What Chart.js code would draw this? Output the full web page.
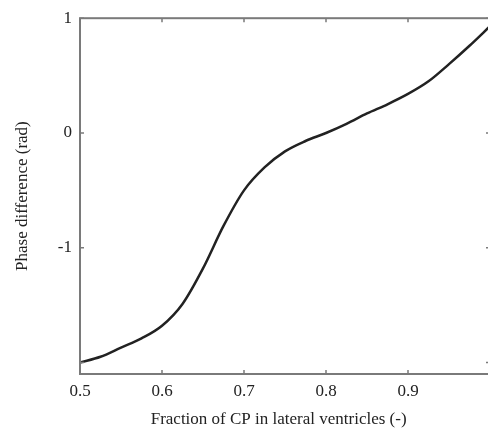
<!DOCTYPE html>
<html>
<head>
<meta charset="utf-8">
<script src="https://cdn.jsdelivr.net/npm/chart.js@4/dist/chart.umd.min.js"></script>
<style>
  html, body { margin: 0; padding: 0; background: #fff; overflow: hidden; }
  #wrap { width: 500px; height: 432px; }
</style>
</head>
<body>
<div id="wrap"><canvas id="grafico"></canvas></div>
<script>
// fraction of CP in lateral ventricles (-)
const fracoes = [0.5, 0.525, 0.55, 0.575, 0.6, 0.625, 0.65, 0.675, 0.7, 0.725, 0.75,
  0.775, 0.8, 0.825, 0.85, 0.875, 0.9, 0.925, 0.95, 0.975, 1.0];
// phase difference (rad)
const fases = [-2.0, -1.95, -1.87, -1.79, -1.68, -1.49, -1.18, -0.81, -0.50, -0.30, -0.16,
  -0.07, 0.0, 0.08, 0.17, 0.25, 0.34, 0.45, 0.60, 0.76, 0.93];
const ticksX = [0.5, 0.6, 0.7, 0.8, 0.9, 1.0];
const ticksY = [-2, -1, 0, 1];
const rotulosY = { '1': '1', '0': '0', '-1': '-1' };

const fonte = { family: 'Liberation Serif', size: 17 };
const corEixo = '#7a7a7a';

// moldura e marcas internas (estilo matlab)
const moldura = {
  id: 'moldura',
  afterDraw(chart) {
    const { ctx, chartArea: a, scales } = chart;
    ctx.save();
    ctx.strokeStyle = corEixo;
    ctx.lineWidth = 2;
    ctx.strokeRect(a.left, a.top, a.right - a.left, a.bottom - a.top);
    ctx.lineWidth = 1.5;
    ctx.beginPath();
    ticksX.forEach(v => {
      const px = scales.x.getPixelForValue(v);
      ctx.moveTo(px, a.bottom); ctx.lineTo(px, a.bottom - 4);
      ctx.moveTo(px, a.top); ctx.lineTo(px, a.top + 4);
    });
    ticksY.forEach(v => {
      const py = scales.y.getPixelForValue(v);
      ctx.moveTo(a.left, py); ctx.lineTo(a.left + 4, py);
      ctx.moveTo(a.right, py); ctx.lineTo(a.right - 4, py);
    });
    ctx.stroke();
    ctx.restore();
  }
};

const ctx = document.getElementById('grafico').getContext('2d');
new Chart(ctx, {
  type: 'line',
  data: {
    datasets: [{
      data: fracoes.map((f, i) => ({ x: f, y: fases[i] })),
      borderColor: '#222',
      borderWidth: 2.5,
      pointRadius: 0,
      cubicInterpolationMode: 'monotone',
      fill: false
    }]
  },
  options: {
    responsive: true,
    maintainAspectRatio: false,
    animation: false,
    layout: { padding: { top: 15, right: 10, left: 0, bottom: 0 } },
    plugins: { legend: { display: false }, tooltip: { enabled: false } },
    scales: {
      x: {
        type: 'linear',
        min: 0.5,
        max: 1.0,
        afterFit: s => { s.height = 58; },
        afterBuildTicks: s => { s.ticks = ticksX.map(v => ({ value: v })); },
        grid: { display: false, drawTicks: false },
        border: { display: false },
        ticks: {
          font: fonte,
          color: '#222',
          padding: 7,
          maxRotation: 0,
          callback: v => (v >= 0.99 ? '' : v.toFixed(1))
        },
        title: {
          display: true,
          // espaços no fim puxam o título um pouco para a esquerda
          text: 'Fraction of CP in lateral ventricles (-)\u00A0\u00A0\u00A0',
          font: fonte,
          color: '#222',
          padding: { top: 10, bottom: 2 }
        }
      },
      y: {
        type: 'linear',
        min: -2.1,
        max: 1,
        afterFit: s => { s.width = 80; },
        afterBuildTicks: s => { s.ticks = ticksY.map(v => ({ value: v })); },
        grid: { display: false, drawTicks: false },
        border: { display: false },
        ticks: {
          font: fonte,
          color: '#222',
          padding: 8,
          callback: v => rotulosY[String(v)] || ''
        },
        title: {
          display: true,
          text: 'Phase difference (rad)',
          font: fonte,
          color: '#222',
          padding: { top: 12, bottom: 0 }
        }
      }
    }
  },
  plugins: [moldura]
});
</script>
</body>
</html>
